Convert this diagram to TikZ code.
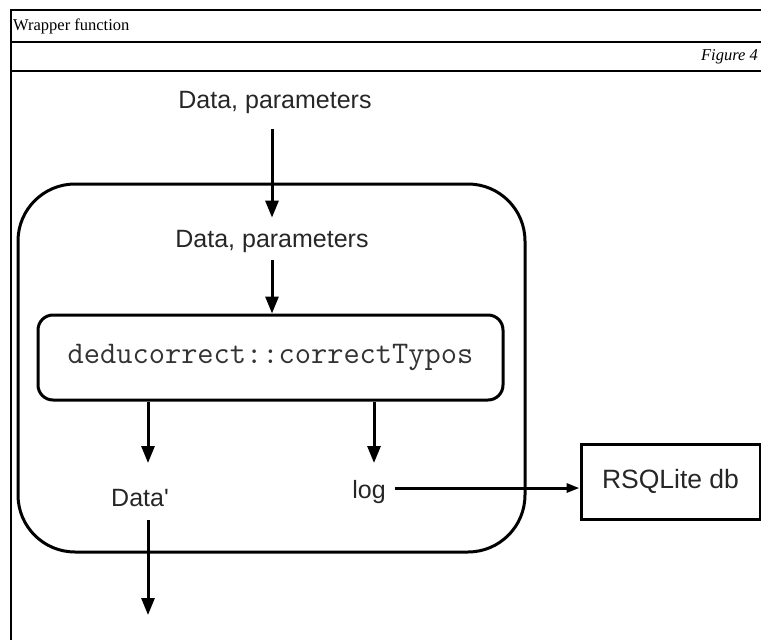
\documentclass[tikz,border=0pt]{standalone}
\usepackage{fontspec}
\setmainfont{Liberation Serif}
\newfontfamily\lsans{Liberation Sans}
\usetikzlibrary{arrows.meta}
\begin{document}
\begin{tikzpicture}[x=1pt,y=-1pt,
  frameline/.style={line width=1.1pt, draw=black},
  lbl/.style={inner sep=0pt, font=\lsans\fontsize{25}{30}\selectfont, text=black!85},
  boxline/.style={draw=black, line width=3pt},
  arr/.style={line width=3pt, -{Triangle[length=17pt,width=13pt]}},
  arrsmall/.style={line width=3pt, -{Triangle[length=13pt,width=9pt]}},
  ]
\useasboundingbox (0,0) rectangle (761,640);
% table frame
\draw[frameline] (11,640) -- (11,10) -- (761,10);
\draw[frameline] (11,42) -- (761,42);
\draw[frameline] (11,71) -- (761,71);
\node[anchor=west, inner sep=0pt, font=\fontsize{16.5}{19}\selectfont] (title) at (13,26) {Wrapper function};
\node[anchor=east, inner sep=0pt, font=\itshape\fontsize{16.5}{19}\selectfont] (fig) at (758,57) {Figure 4};
% wrapper box
\node[boxline, rounded corners=57pt, minimum width=507pt, minimum height=368pt, inner sep=0pt] (wrap) at (271.5,368) {};
% inner function box
\node[boxline, rounded corners=15pt, minimum width=465pt, minimum height=85pt, inner sep=0pt,
      font=\ttfamily\fontsize{31.5}{34}\selectfont, text=black!80] (ct) at (270.5,357.5) {deducorrect::correctTypos};
% labels
\node[lbl, anchor=base] (in) at (275,108) {Data, parameters};
\node[lbl, anchor=base] (dp) at (272,247) {Data, parameters};
\node[lbl, anchor=base] (dat) at (140,506) {Data\symbol{39}};
\node[lbl, anchor=base] (log) at (369,498) {log};
\node[boxline, minimum width=179pt, minimum height=75pt, inner sep=0pt,
      font=\lsans\fontsize{26.5}{30}\selectfont, text=black!85] (rs) at (670.5,481.5) {RSQLite db};
% free ends
\coordinate (t1) at (148,463);
\coordinate (t2) at (374,463);
\coordinate (out) at (148,615);
% connectors
\draw[arr, shorten <=15.7pt, shorten >=12pt] (in.south -| dp.north) -- (dp.north);
\draw[arr, shorten <=7.7pt] (dp.south) -- (dp.south |- ct.north);
\draw[arr] (ct.south -| t1) -- (t1);
\draw[arr] (ct.south -| t2) -- (t2);
\draw[arrsmall, shorten <=9pt] ([yshift=3.5pt]log.east) -- ([yshift=3.5pt]log.east -| rs.west);
\draw[arr, shorten <=14pt] (dat.south -| out) -- (out);
\end{tikzpicture}
\end{document}
